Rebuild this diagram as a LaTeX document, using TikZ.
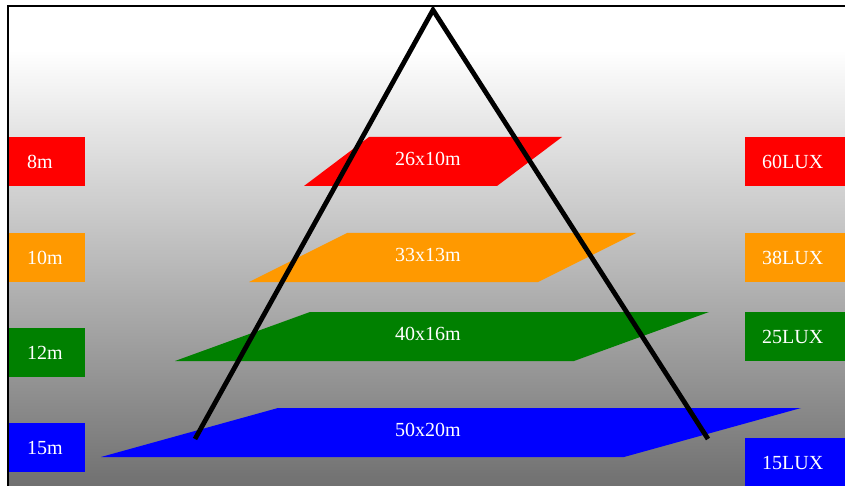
\documentclass[tikz,border=0pt]{standalone}
\usepackage{fontspec}
\setmainfont{Liberation Serif}
\usepackage{tikz}
\usetikzlibrary{positioning, calc}
\definecolor{lvlred}{HTML}{FF0000}
\definecolor{lvlorange}{HTML}{FF9900}
\definecolor{lvlgreen}{HTML}{008000}
\definecolor{lvlblue}{HTML}{0000FF}
\tikzset{
  % --- side tags (height on the left, lux on the right) ---
  heighttag/.style={anchor=north west, text=white, font=\fontsize{20}{24}\selectfont,
    minimum height=49pt, inner xsep=18pt, inner ysep=0pt, text width=40pt, align=left},
  luxtag/.style={heighttag, inner xsep=17pt, text width=66pt},
  % --- floor plates ---
  plate/.style={line width=0pt},
  platelabel/.style={text=white, font=\fontsize{20}{24}\selectfont, inner sep=0pt},
  % --- pyramid outline ---
  pyramid/.style={line width=4.8pt, black},
}

\begin{document}
\begin{tikzpicture}[x=1pt, y=-1pt]
    \useasboundingbox (0,0) rectangle (845,486);
    % backdrop and frame
    \fill[white] (8,6) rectangle (845,50);
    \shade[top color=white, bottom color=black!56] (8,50) rectangle (845,486);
    \draw[line width=2pt] (8,486) -- (8,6) -- (845,6);
    % floor plates: colour / top y / bottom-left x / top-left x / top-right x / bottom-right x / size
    \foreach \c/\yt/\bl/\tl/\tr/\br/\sz in {lvlred/137/304/369/562/497/26x10m,
        lvlorange/233/249/347/636/538/33x13m,
        lvlgreen/312/175/310/709/574/40x16m,
        lvlblue/408/101/278/801/624/50x20m}{
      \fill[plate, \c] (\bl,\yt+49) -- (\tl,\yt) -- (\tr,\yt) -- (\br,\yt+49) -- cycle;
      \node[platelabel] (plate-\sz) at (428,\yt+22) {\sz};
    }
    % pyramid
    \coordinate (apex) at (433,10);
    \coordinate (baseL) at (195,439);
    \coordinate (baseR) at (708,439);
    \draw[pyramid] (baseL) -- (apex) -- (baseR);
    % height tags
    \node[heighttag, fill=lvlred] (h8) at (9,137) {8m};
    \node[heighttag, fill=lvlorange] (h10) at (9,233) {10m};
    \node[heighttag, fill=lvlgreen] (h12) at (9,328) {12m};
    \node[heighttag, fill=lvlblue] (h15) at (9,423) {15m};
    % lux tags
    \node[luxtag, fill=lvlred] (l60) at (745,137) {60LUX};
    \node[luxtag, fill=lvlorange] (l38) at (745,233) {38LUX};
    \node[luxtag, fill=lvlgreen] (l25) at (745,312) {25LUX};
    \node[luxtag, fill=lvlblue] (l15) at (745,438) {15LUX};
  \end{tikzpicture}
\end{document}
